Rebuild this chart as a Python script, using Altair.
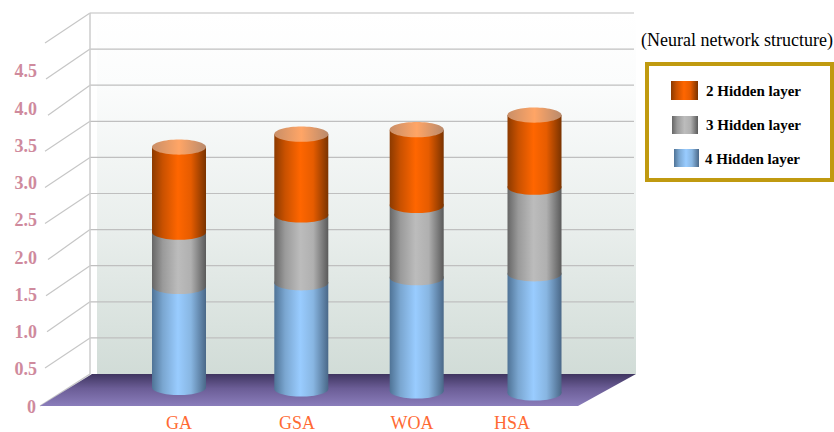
import altair as alt
import pandas as pd

# Chart values
categories = ["GA", "GSA", "WOA", "HSA"]
hidden_4 = [1.40, 1.47, 1.57, 1.65]
hidden_3 = [0.75, 0.94, 1.00, 1.20]
hidden_2 = [1.18, 1.12, 1.05, 1.00]
axis_labels = ["0", "0.5", "1.0", "1.5", "2.0", "2.5", "3.0", "3.5", "4.0", "4.5"]
legend_labels = ["2 Hidden layer", "3 Hidden layer", "4 Hidden layer"]
note = "(Neural network structure)"

# Layout of the pseudo-3D scene, in canvas pixels
W, H = 834, 432
FLOOR_BACK = 374
FLOOR_FRONT = 406
UNIT = 72.2
CENTERS = [179, 301.3, 416.7, 534.5]
BASE_PX = [387.5, 389, 391, 393]
LABEL_X = [179, 297, 412, 512]
HALF = 27
RY = 7.6
SLANT_END = [45, 45, 47, 46, 48, 45, 45, 45, 48, 46, 45]
FONT = "Liberation Serif"


def val(px):
    """Canvas row expressed in value units of the back wall."""
    return (FLOOR_BACK - px) / UNIT


def hgrad(stops):
    return alt.LinearGradient(
        gradient="linear", x1=0, x2=1, y1=0, y2=0,
        stops=[alt.GradientStop(offset=o, color=c) for o, c in stops],
    )


def vgrad(stops):
    return alt.LinearGradient(
        gradient="linear", x1=0, x2=0, y1=0, y2=1,
        stops=[alt.GradientStop(offset=o, color=c) for o, c in stops],
    )


ORANGE = hgrad([(0, "#8c3a00"), (0.2, "#c95100"), (0.48, "#ff6600"), (0.72, "#e65c00"), (1, "#7a3300")])
GRAY = hgrad([(0, "#666666"), (0.2, "#9a9a9a"), (0.48, "#bcbcbc"), (0.72, "#b0b0b0"), (1, "#5a5a5a")])
BLUE = hgrad([(0, "#4f7396"), (0.2, "#7aa6d0"), (0.48, "#99ccff"), (0.72, "#88b6e2"), (1, "#4a6888")])
CAP = hgrad([(0, "#c98f68"), (0.5, "#ffa566"), (1, "#b98a6c")])

k = 0.5523
r = RY / HALF
ELLIPSE = (
    f"M-1,0C-1,{-k*r:.4f} {-k:.4f},{-r:.4f} 0,{-r:.4f}"
    f"C{k:.4f},{-r:.4f} 1,{-k*r:.4f} 1,0"
    f"C1,{k*r:.4f} {k:.4f},{r:.4f} 0,{r:.4f}"
    f"C{-k:.4f},{r:.4f} -1,{k*r:.4f} -1,0Z"
)

xs = alt.Scale(domain=[0, W])
ys = alt.Scale(domain=[val(H), val(0)])
X = lambda f: alt.X(f, type="quantitative", scale=xs, axis=None)
Y = lambda f: alt.Y(f, type="quantitative", scale=ys, axis=None)
X2 = lambda f: alt.X2(f)
Y2 = lambda f: alt.Y2(f)

layers = []

# Back wall and floor
wall = pd.DataFrame({"x": [97], "x2": [636], "y": [val(13)], "y2": [val(FLOOR_BACK)]})
layers.append(
    alt.Chart(wall)
    .mark_rect(color=vgrad([(0, "#ffffff"), (0.2, "#fbfcfc"), (0.6, "#e9eeec"), (1, "#d1dcd7")]))
    .encode(x=X("x"), x2=X2("x2"), y=Y("y"), y2=Y2("y2"))
)

levels = [i * 0.5 for i in range(1, 11)]
grid = pd.DataFrame({"x": [90] * 10, "x2": [634] * 10, "y": levels})
layers.append(
    alt.Chart(grid).mark_rule(color="#bfbfbf", strokeWidth=1.2).encode(x=X("x"), x2=X2("x2"), y=Y("y"))
)

slants = pd.DataFrame({
    "x": [90] * 11,
    "x2": SLANT_END,
    "y": [i * 0.5 for i in range(11)],
    "y2": [i * 0.5 - (30 / UNIT) for i in range(11)],
})
slants.loc[0, "x2"] = 40
slants.loc[0, "y2"] = val(FLOOR_FRONT)
layers.append(
    alt.Chart(slants).mark_rule(color="#c6c6c6", strokeWidth=1.2).encode(
        x=X("x"), x2=X2("x2"), y=Y("y"), y2=Y2("y2")
    )
)

spine = pd.DataFrame({"x": [90], "y": [val(13)], "y2": [val(FLOOR_BACK)]})
layers.append(
    alt.Chart(spine).mark_rule(color="#cccccc", strokeWidth=1.5).encode(x=X("x"), y=Y("y"), y2=Y2("y2"))
)

floor = pd.DataFrame({
    "y": [val(FLOOR_BACK), val(FLOOR_FRONT)],
    "x": [92, 40],
    "x2": [636, 578],
})
layers.append(
    alt.Chart(floor)
    .mark_area(orient="horizontal", color=vgrad([(0, "#3f3560"), (0.45, "#6b5d96"), (1, "#8a7dbb")]))
    .encode(y=Y("y"), x=X("x"), x2=X2("x2"))
)

# Stacked cylinders: each segment is a body plus a bottom ellipse, painted upward
bases = [val(p) for p in BASE_PX]
start = bases[:]
for values, fill in [(hidden_4, BLUE), (hidden_3, GRAY), (hidden_2, ORANGE)]:
    end = [s + v for s, v in zip(start, values)]
    seg = pd.DataFrame({
        "cat": categories,
        "cx": CENTERS,
        "x": [c - HALF for c in CENTERS],
        "x2": [c + HALF for c in CENTERS],
        "y": start,
        "y2": end,
    })
    layers.append(
        alt.Chart(seg).mark_rect(color=fill).encode(x=X("x"), x2=X2("x2"), y=Y("y"), y2=Y2("y2"))
    )
    layers.append(
        alt.Chart(seg)
        .mark_point(filled=True, shape=ELLIPSE, size=(2 * HALF) ** 2, color=fill, opacity=1, strokeWidth=0)
        .encode(x=X("cx"), y=Y("y"))
    )
    start = end

caps = pd.DataFrame({"cx": CENTERS, "y": start})
layers.append(
    alt.Chart(caps)
    .mark_point(filled=True, shape=ELLIPSE, size=(2 * HALF) ** 2, color=CAP, opacity=1, strokeWidth=0)
    .encode(x=X("cx"), y=Y("y"))
)

# Value labels on the front edge and category labels under the floor
ticks = pd.DataFrame({
    "label": axis_labels,
    "x": [36] + [37] * 9,
    "y": [val(407.5 - 74.5 * i * 0.5) for i in range(10)],
})
layers.append(
    alt.Chart(ticks)
    .mark_text(align="right", baseline="middle", font=FONT, fontSize=18, fontWeight="bold", color="#cf8a9d")
    .encode(x=X("x"), y=Y("y"), text="label:N")
)

cats = pd.DataFrame({"label": categories, "x": LABEL_X, "y": [val(424)] * 4})
layers.append(
    alt.Chart(cats)
    .mark_text(align="center", baseline="middle", font=FONT, fontSize=18, color="#ff6a33")
    .encode(x=X("x"), y=Y("y"), text="label:N")
)

# Legend
box = pd.DataFrame({"x": [647], "x2": [832], "y": [val(64)], "y2": [val(180)]})
layers.append(
    alt.Chart(box)
    .mark_rect(fill="#ffffff", stroke="#c09a10", strokeWidth=4)
    .encode(x=X("x"), x2=X2("x2"), y=Y("y"), y2=Y2("y2"))
)

for (x0, x1, y0, y1), fill in zip(
    [(671, 698, 81, 100), (672, 698, 116, 134), (674, 699, 149, 167)], [ORANGE, GRAY, BLUE]
):
    swatch = pd.DataFrame({"x": [x0], "x2": [x1], "y": [val(y0)], "y2": [val(y1)]})
    layers.append(
        alt.Chart(swatch).mark_rect(color=fill).encode(x=X("x"), x2=X2("x2"), y=Y("y"), y2=Y2("y2"))
    )

entries = pd.DataFrame({
    "label": legend_labels,
    "x": [706, 706, 705],
    "y": [val(91), val(125), val(159)],
})
layers.append(
    alt.Chart(entries)
    .mark_text(align="left", baseline="middle", font=FONT, fontSize=15, fontWeight="bold", color="#000000")
    .encode(x=X("x"), y=Y("y"), text="label:N")
)

caption = pd.DataFrame({"label": [note], "x": [641], "y": [val(41)]})
layers.append(
    alt.Chart(caption)
    .mark_text(align="left", baseline="middle", font=FONT, fontSize=18, color="#000000")
    .encode(x=X("x"), y=Y("y"), text="label:N")
)

chart = (
    alt.layer(*layers)
    .properties(width=W, height=H, padding=0, autosize=alt.AutoSizeParams(type="none"), background="#ffffff")
    .configure_view(stroke=None)
)

chart.save("out.html", embed_options={"renderer": "svg", "actions": False})
